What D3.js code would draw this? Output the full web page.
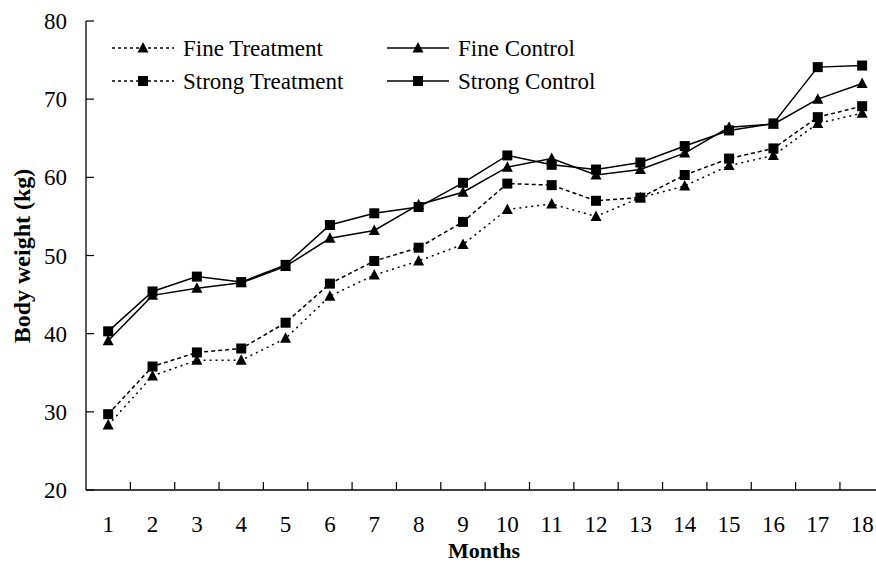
<!DOCTYPE html>
<html><head><meta charset="utf-8">
<script src="https://cdn.jsdelivr.net/npm/d3@7"></script>
<style>body{margin:0;background:#fff}svg{display:block}text{font-family:"Liberation Serif","Times New Roman",serif;fill:#000}</style>
</head><body><svg id="c" width="876" height="563"></svg>
<script>
const months = [1,2,3,4,5,6,7,8,9,10,11,12,13,14,15,16,17,18];
const fineTreatment   = [28.3,34.6,36.6,36.6,39.4,44.8,47.5,49.3,51.4,55.9,56.6,55.0,57.4,58.9,61.5,62.8,66.9,68.2];
const strongTreatment = [29.7,35.8,37.6,38.1,41.4,46.4,49.3,51.0,54.3,59.2,59.0,57.0,57.4,60.3,62.4,63.7,67.7,69.1];
const fineControl     = [39.1,44.9,45.8,46.5,48.6,52.2,53.2,56.5,58.1,61.3,62.4,60.3,61.0,63.1,66.4,66.8,70.0,72.0];
const strongControl   = [40.3,45.4,47.3,46.6,48.8,53.9,55.4,56.2,59.3,62.8,61.6,61.0,61.9,64.0,66.0,66.9,74.1,74.3];
const yTicks = [20,30,40,50,60,70,80];
const seriesNames = ["Fine Treatment","Fine Control","Strong Treatment","Strong Control"];

const series = [
  {name:seriesNames[0], values:fineTreatment, marker:"triangle", dash:"2,4"},
  {name:seriesNames[1], values:fineControl, marker:"triangle", dash:null},
  {name:seriesNames[2], values:strongTreatment, marker:"square", dash:"4,3"},
  {name:seriesNames[3], values:strongControl, marker:"square", dash:null}
];

const svg = d3.select("#c");
const x = d3.scaleBand().domain(months).range([86, 86+18*44.35]).padding(0);
const y = d3.scaleLinear().domain([20,80]).range([490,21]);
const cx = m => x(m) + x.bandwidth()/2;

// axes
const g = svg.append("g");
g.append("line").attr("x1",86).attr("x2",876).attr("y1",y(20)).attr("y2",y(20)).attr("stroke","#000").attr("stroke-width",1.3);
g.append("line").attr("x1",86).attr("x2",86).attr("y1",y(20)).attr("y2",y(80)).attr("stroke","#000").attr("stroke-width",1.3);
// y ticks (inward)
yTicks.forEach(t=>{
  g.append("line").attr("x1",86).attr("x2",94).attr("y1",y(t)).attr("y2",y(t)).attr("stroke","#000").attr("stroke-width",1.2);
  g.append("text").attr("x",67).attr("y",y(t)).attr("dy","0.35em").attr("text-anchor","end").attr("font-size",23).text(t);
});
// x boundary ticks (inward)
months.slice(1).forEach(m=>{
  const xx = x(m);
  g.append("line").attr("x1",xx).attr("x2",xx).attr("y1",y(20)).attr("y2",y(20)-8).attr("stroke","#000").attr("stroke-width",1.2);
});
months.forEach(m=>{
  g.append("text").attr("x",cx(m)).attr("y",532).attr("text-anchor","middle").attr("font-size",23).text(m);
});
g.append("text").attr("x",484).attr("y",558).attr("text-anchor","middle").attr("font-size",22).attr("font-weight","bold").text("Months");
g.append("text").attr("transform","translate(30,256) rotate(-90)").attr("text-anchor","middle").attr("font-size",24).attr("font-weight","bold").text("Body weight (kg)");

function drawMarker(sel, type, px, py){
  if(type==="square"){
    sel.append("rect").attr("x",px-5).attr("y",py-5).attr("width",10).attr("height",10).attr("fill","#000");
  } else {
    sel.append("path").attr("d",`M${px},${py-6}L${px+5.5},${py+4.5}L${px-5.5},${py+4.5}Z`).attr("fill","#000");
  }
}

const line = d3.line().x((d,i)=>cx(months[i])).y(d=>y(d));
series.forEach(s=>{
  const p = svg.append("path").datum(s.values).attr("d",line).attr("fill","none").attr("stroke","#000").attr("stroke-width",1.5);
  if(s.dash) p.attr("stroke-dasharray",s.dash);
});
series.forEach(s=>{
  const gm = svg.append("g");
  s.values.forEach((v,i)=>drawMarker(gm, s.marker, cx(months[i]), y(v)));
});

// legend
const legendPos = [[112,48],[387,48],[112,81],[387,81]];
series.forEach((s,i)=>{
  const [lx,ly] = legendPos[i];
  const lg = svg.append("g");
  const l = lg.append("line").attr("x1",lx).attr("x2",lx+62).attr("y1",ly).attr("y2",ly).attr("stroke","#000").attr("stroke-width",1.5);
  if(s.dash) l.attr("stroke-dasharray","3,3");
  drawMarker(lg, s.marker, lx+31, ly);
  lg.append("text").attr("x",lx+71).attr("y",ly).attr("dy","0.35em").attr("font-size",23).text(s.name);
});
</script></body></html>
